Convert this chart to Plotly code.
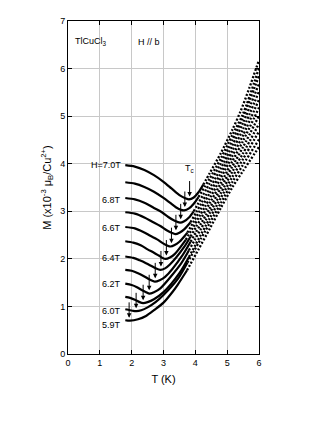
import plotly.graph_objects as go

# magnetization curves of TlCuCl3, H // b, one curve per field
fields = ["7.0", "6.9", "6.8", "6.7", "6.6", "6.5", "6.4", "6.3", "6.2", "6.1", "6.0", "5.9"]

# dense (solid) part of each curve, low temperature side
t_solid = [
    [1.8, 2.1, 2.4, 2.7, 3.0, 3.25, 3.5, 3.7, 3.8, 3.95, 4.1, 4.25],
    [1.8, 2.1, 2.4, 2.7, 3.0, 3.2, 3.4, 3.55, 3.65, 3.8, 3.95, 4.1],
    [1.8, 2.1, 2.4, 2.7, 2.95, 3.15, 3.35, 3.52, 3.65, 3.8, 3.95],
    [1.8, 2.1, 2.4, 2.65, 2.9, 3.1, 3.25, 3.37, 3.5, 3.65, 3.85],
    [1.8, 2.1, 2.35, 2.6, 2.8, 3.0, 3.12, 3.22, 3.35, 3.5, 3.75],
    [1.8, 2.05, 2.3, 2.5, 2.7, 2.85, 2.97, 3.07, 3.2, 3.35, 3.7],
    [1.8, 2.05, 2.25, 2.45, 2.62, 2.76, 2.9, 3.05, 3.2, 3.65, 3.85],
    [1.8, 2.0, 2.2, 2.4, 2.55, 2.65, 2.73, 2.88, 3.05, 3.6, 3.85],
    [1.8, 2.0, 2.15, 2.3, 2.42, 2.55, 2.7, 2.9, 3.55, 3.8],
    [1.8, 1.95, 2.1, 2.25, 2.36, 2.5, 2.7, 3.0, 3.5, 3.8],
    [1.8, 1.95, 2.05, 2.15, 2.3, 2.5, 2.75, 3.0, 3.45, 3.75],
    [1.8, 1.95, 2.2, 2.45, 2.7, 3.0, 3.3, 3.45, 3.74],
]
m_solid = [
    [3.97, 3.94, 3.87, 3.76, 3.62, 3.48, 3.34, 3.27, 3.25, 3.29, 3.40, 3.56],
    [3.61, 3.58, 3.51, 3.41, 3.28, 3.18, 3.08, 3.03, 3.02, 3.06, 3.16, 3.30],
    [3.28, 3.25, 3.18, 3.07, 2.98, 2.88, 2.80, 2.76, 2.79, 2.87, 3.00],
    [2.98, 2.95, 2.87, 2.78, 2.69, 2.60, 2.55, 2.52, 2.55, 2.62, 2.77],
    [2.67, 2.64, 2.57, 2.48, 2.41, 2.32, 2.28, 2.26, 2.29, 2.36, 2.55],
    [2.37, 2.34, 2.28, 2.20, 2.13, 2.07, 2.02, 2.00, 2.03, 2.10, 2.40],
    [2.05, 2.02, 1.97, 1.91, 1.85, 1.80, 1.77, 1.80, 1.88, 2.25, 2.47],
    [1.77, 1.75, 1.70, 1.63, 1.57, 1.54, 1.52, 1.55, 1.62, 2.08, 2.36],
    [1.48, 1.45, 1.41, 1.35, 1.31, 1.27, 1.30, 1.38, 1.90, 2.18],
    [1.20, 1.18, 1.14, 1.09, 1.07, 1.09, 1.15, 1.30, 1.70, 2.04],
    [0.94, 0.92, 0.905, 0.90, 0.92, 0.98, 1.09, 1.24, 1.58, 1.92],
    [0.71, 0.70, 0.73, 0.80, 0.92, 1.08, 1.32, 1.46, 1.76],
]

# sparse (dotted) part, high temperature side
t_dots = [
    [4.25, 4.45, 4.8, 5.16, 5.42, 5.7, 6.0],
    [4.1, 4.45, 4.8, 5.16, 5.5, 6.0],
    [3.95, 4.45, 4.8, 5.16, 5.5, 6.0],
    [3.85, 4.45, 4.8, 5.16, 5.5, 6.0],
    [3.75, 4.45, 4.8, 5.16, 5.5, 6.0],
    [3.7, 4.45, 4.8, 5.16, 5.5, 6.0],
    [3.85, 4.45, 4.8, 5.16, 5.5, 6.0],
    [3.85, 4.45, 4.8, 5.16, 5.5, 6.0],
    [3.8, 4.45, 4.8, 5.16, 5.5, 6.0],
    [3.8, 4.45, 4.8, 5.16, 5.5, 6.0],
    [3.75, 4.45, 4.8, 5.16, 5.5, 6.0],
    [3.74, 4.1, 4.45, 4.8, 5.16, 5.5, 6.0],
]
m_dots = [
    [3.56, 3.80, 4.22, 4.71, 5.10, 5.60, 6.18],
    [3.30, 3.69, 4.11, 4.60, 5.05, 6.01],
    [3.00, 3.59, 4.01, 4.49, 4.98, 5.85],
    [2.77, 3.48, 3.90, 4.38, 4.86, 5.68],
    [2.55, 3.38, 3.80, 4.27, 4.73, 5.52],
    [2.40, 3.27, 3.70, 4.16, 4.60, 5.35],
    [2.47, 3.17, 3.59, 4.05, 4.48, 5.18],
    [2.36, 3.06, 3.49, 3.94, 4.35, 5.01],
    [2.18, 2.96, 3.38, 3.83, 4.22, 4.84],
    [2.04, 2.85, 3.28, 3.72, 4.10, 4.68],
    [1.92, 2.75, 3.17, 3.61, 3.98, 4.51],
    [1.76, 2.20, 2.63, 3.07, 3.50, 3.85, 4.35],
]

# Tc arrows: temperature and M at the arrow tip
tc_t = [3.82, 3.67, 3.54, 3.39, 3.25, 3.09, 2.92, 2.74, 2.55, 2.36, 2.14, 1.92]
tc_m = [3.31, 3.09, 2.83, 2.60, 2.33, 2.07, 1.84, 1.59, 1.34, 1.13, 0.96, 0.76]

# field labels at the left end of the curves
label_text = ["H=7.0T", "6.8T", "6.6T", "6.4T", "6.2T", "6.0T", "5.9T"]
label_m = [3.97, 3.24, 2.65, 2.02, 1.47, 0.90, 0.61]

FONT = "Liberation Sans, Arial, sans-serif"

fig = go.Figure()
for i in range(len(fields)):
    fig.add_trace(go.Scatter(x=t_solid[i], y=m_solid[i], mode="lines",
                             line=dict(color="black", width=2.2, shape="spline", smoothing=0.8),
                             hoverinfo="skip", name=fields[i] + " T"))
    fig.add_trace(go.Scatter(x=t_dots[i], y=m_dots[i], mode="lines",
                             line=dict(color="black", width=2.3, shape="spline", smoothing=0.8,
                                       dash="2px,1.8px"),
                             hoverinfo="skip", showlegend=False))

annotations = []
for t, m in zip(tc_t, tc_m):
    annotations.append(dict(x=t, y=m, xref="x", yref="y", text="", showarrow=True,
                            ax=0, ay=-17, arrowhead=2, arrowsize=0.9, arrowwidth=1,
                            arrowcolor="black"))
for txt, m in zip(label_text, label_m):
    annotations.append(dict(x=1.72, y=m, xref="x", yref="y", text=txt, showarrow=False,
                            xanchor="right", yanchor="middle", font=dict(size=9, color="black")))
annotations.append(dict(x=3.82, y=3.9, text="T<sub>c</sub>", showarrow=False,
                        font=dict(size=9, color="black")))
annotations.append(dict(x=0.73, y=6.56, text="TlCuCl<sub>3</sub>", showarrow=False,
                        font=dict(size=9, color="black")))
annotations.append(dict(x=2.56, y=6.56, text="H // b", showarrow=False,
                        font=dict(size=9, color="black")))

axis_style = dict(showline=True, linecolor="black", linewidth=1, mirror="ticks",
                  ticks="inside", ticklen=4, tickcolor="black", showgrid=True,
                  gridcolor="#c8c8c8", gridwidth=1, zeroline=False, automargin=False,
                  tickfont=dict(size=9, color="black"))

# the page body adds an 8px offset, so margins are reduced by 8 on left/top
fig.update_layout(
    width=327, height=423,
    margin=dict(l=60, r=76, t=13, b=77),
    paper_bgcolor="white", plot_bgcolor="white",
    font=dict(family=FONT, size=9, color="black"),
    showlegend=False,
    annotations=annotations,
    xaxis=dict(range=[0, 6], dtick=1, title=dict(text="T (K)", standoff=8), **axis_style),
    yaxis=dict(range=[0, 7], dtick=1,
               title=dict(text="M (x10<sup>-3</sup> μ<sub>B</sub>/Cu<sup>2+</sup>)", standoff=6),
               **axis_style),
)

fig.write_html("out.html")
